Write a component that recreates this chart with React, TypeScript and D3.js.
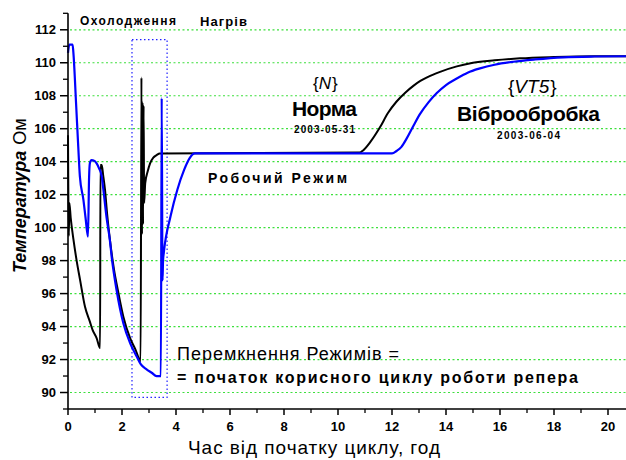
import React, { useEffect, useRef } from 'react';
import * as d3 from 'd3';

const W = 626;
const H = 460;
const FONT = "Arial, 'Liberation Sans', sans-serif";

// {N} Норма, 2003-05-31 (black)
const normaT = [0, 0.03, 0.05, 0.1, 0.2, 0.32, 0.45, 0.63, 0.81, 0.91, 1.06, 1.19, 1.2, 1.25, 1.3, 1.37, 1.45, 1.55, 1.7, 1.86, 2.05, 2.3, 2.5, 2.69, 2.72, 2.74, 2.76, 2.78, 2.8, 2.82, 2.86, 2.95, 3.04, 3.16, 3.28, 3.4, 10.8, 10.94, 11.2, 11.56, 11.85, 12.17, 12.5, 12.79, 13.05, 13.3, 13.78, 14.4, 15.0, 15.8, 16.74, 18, 19.5, 21];
const normaV = [105.6, 99.5, 101.5, 100.6, 99.3, 98.0, 96.8, 95.2, 94.3, 93.8, 93.3, 92.7, 103.8, 103.8, 103.2, 102.3, 100.8, 99.3, 97.5, 96.1, 94.6, 93.3, 92.6, 91.9, 109.1, 99.6, 107.6, 100.2, 107.4, 101.5, 102.7, 103.4, 103.9, 104.25, 104.4, 104.5, 104.55, 104.7, 105.2, 106.1, 106.95, 107.65, 108.2, 108.6, 108.9, 109.12, 109.45, 109.78, 110.0, 110.15, 110.27, 110.35, 110.4, 110.4];

// {VT5} Віброобробка, 2003-06-04 (blue)
const vt5T = [0, 0.05, 0.17, 0.2, 0.3, 0.38, 0.44, 0.57, 0.65, 0.74, 0.78, 0.81, 0.87, 0.98, 1.06, 1.15, 1.25, 1.31, 1.43, 1.55, 1.62, 1.8, 2.05, 2.3, 2.54, 2.7, 2.91, 3.1, 3.28, 3.44, 3.47, 3.5, 3.52, 3.55, 3.8, 4.05, 4.3, 4.5, 4.7, 12.0, 12.17, 12.35, 12.54, 12.8, 13.04, 13.35, 13.65, 14.0, 14.4, 14.8, 15.26, 15.8, 16.49, 17.3, 18.35, 19.5, 21];
const vt5V = [110.6, 111.1, 111.1, 110.6, 107.5, 104.9, 103.1, 101.7, 100.6, 99.45, 103.0, 103.9, 104.1, 104.05, 103.9, 103.6, 103.1, 102.3, 100.6, 99.25, 98.2, 96.2, 94.2, 93.0, 92.2, 91.7, 91.4, 91.2, 91.0, 91.0, 107.85, 96.8, 98.0, 98.5, 100.7, 102.3, 103.5, 104.2, 104.5, 104.5, 104.65, 104.9, 105.4, 106.2, 106.9, 107.6, 108.15, 108.65, 109.05, 109.4, 109.66, 109.88, 110.06, 110.2, 110.33, 110.38, 110.4];

const xMajorTicks = [0, 2, 4, 6, 8, 10, 12, 14, 16, 18, 20];
const yMajorTicks = [90, 92, 94, 96, 98, 100, 102, 104, 106, 108, 110, 112];
// dotted frame around the mode switch: [t0, t1, vLow, vHigh]
const switchBox = [2.37, 3.67, 89.7, 111.4];

const App = () => {
  const svgRef = useRef<SVGSVGElement>(null);

  useEffect(() => {
    const svg = d3.select(svgRef.current);
    svg.selectAll('*').remove();

    const x = d3.scaleLinear().domain([0, 21]).range([68, 635]);
    const y = d3.scaleLinear().domain([89, 113]).range([409, 13.3]);

    // grid
    svg.append('g')
      .selectAll('line')
      .data(yMajorTicks)
      .enter()
      .append('line')
      .attr('x1', x(0) + 2)
      .attr('x2', W)
      .attr('y1', (d) => y(d))
      .attr('y2', (d) => y(d))
      .attr('stroke', '#3ee03e')
      .attr('stroke-width', 1.2)
      .attr('stroke-dasharray', '2,2.5');

    // switch frame
    svg.append('rect')
      .attr('x', x(switchBox[0]))
      .attr('y', y(switchBox[3]))
      .attr('width', x(switchBox[1]) - x(switchBox[0]))
      .attr('height', y(switchBox[2]) - y(switchBox[3]))
      .attr('fill', 'none')
      .attr('stroke', '#2020ff')
      .attr('stroke-width', 1.2)
      .attr('stroke-dasharray', '1.5,2.5');

    const normaPts = normaT.map((t, i) => [x(t), y(normaV[i])] as [number, number]);
    const vt5Pts = vt5T.map((t, i) => [x(t), y(vt5V[i])] as [number, number]);

    svg.append('path')
      .attr('d', d3.line().curve(d3.curveMonotoneX)(normaPts))
      .attr('fill', 'none')
      .attr('stroke', '#000')
      .attr('stroke-width', 2);

    svg.append('path')
      .attr('d', d3.line().curve(d3.curveMonotoneX)(vt5Pts))
      .attr('fill', 'none')
      .attr('stroke', '#0000ff')
      .attr('stroke-width', 2.2);

    // x axis
    const xAxis = svg.append('g').attr('transform', `translate(0, ${y(89)})`);
    xAxis.append('line')
      .attr('x1', x(0)).attr('x2', W)
      .attr('stroke', '#000').attr('stroke-width', 1.6);
    xAxis.selectAll('.minor')
      .data(d3.range(1, 21, 2))
      .enter()
      .append('line')
      .attr('x1', (d) => x(d)).attr('x2', (d) => x(d))
      .attr('y1', 0).attr('y2', 4)
      .attr('stroke', '#000').attr('stroke-width', 1.3);
    xAxis.selectAll('.major')
      .data(xMajorTicks)
      .enter()
      .append('line')
      .attr('x1', (d) => x(d)).attr('x2', (d) => x(d))
      .attr('y1', 0).attr('y2', 6)
      .attr('stroke', '#000').attr('stroke-width', 1.5);
    xAxis.selectAll('text')
      .data(xMajorTicks)
      .enter()
      .append('text')
      .attr('x', (d) => x(d))
      .attr('y', 22)
      .attr('text-anchor', 'middle')
      .attr('font-family', FONT)
      .attr('font-weight', 'bold')
      .attr('font-size', 13)
      .text((d) => d);

    // y axis
    const yAxis = svg.append('g').attr('transform', `translate(${x(0)}, 0)`);
    yAxis.append('line')
      .attr('y1', y(113)).attr('y2', y(89))
      .attr('stroke', '#000').attr('stroke-width', 1.6);
    yAxis.selectAll('.minor')
      .data(d3.range(89, 114, 2))
      .enter()
      .append('line')
      .attr('y1', (d) => y(d)).attr('y2', (d) => y(d))
      .attr('x1', -5).attr('x2', 0)
      .attr('stroke', '#000').attr('stroke-width', 1.3);
    yAxis.selectAll('.major')
      .data(yMajorTicks)
      .enter()
      .append('line')
      .attr('y1', (d) => y(d)).attr('y2', (d) => y(d))
      .attr('x1', -8).attr('x2', 0)
      .attr('stroke', '#000').attr('stroke-width', 1.5);
    yAxis.selectAll('text')
      .data(yMajorTicks)
      .enter()
      .append('text')
      .attr('x', -12)
      .attr('y', (d) => y(d))
      .attr('dy', '0.36em')
      .attr('text-anchor', 'end')
      .attr('font-family', FONT)
      .attr('font-weight', 'bold')
      .attr('font-size', 13)
      .text((d) => d);

    // axis titles
    const yTitle = svg.append('text')
      .attr('transform', 'translate(26, 273) rotate(-90)')
      .attr('font-family', FONT)
      .attr('font-size', 18);
    yTitle.append('tspan')
      .attr('font-weight', 'bold')
      .attr('font-style', 'italic')
      .text('Температура');
    yTitle.append('tspan')
      .attr('dx', 6)
      .text('Ом');

    svg.append('text')
      .attr('x', 188).attr('y', 454)
      .attr('font-family', FONT)
      .attr('font-size', 19)
      .attr('textLength', 252)
      .text('Час від початку циклу, год');

    // annotations
    const label = (tx: string, px: number, py: number, size: number, bold: boolean, len?: number) => {
      const t = svg.append('text')
        .attr('x', px).attr('y', py)
        .attr('font-family', FONT)
        .attr('font-size', size)
        .attr('font-weight', bold ? 'bold' : 'normal')
        .text(tx);
      if (len) t.attr('textLength', len).attr('lengthAdjust', 'spacing');
      return t;
    };

    label('Охолодження', 80, 25, 12, true, 96);
    label('Нагрів', 200, 26, 13, true, 47);
    label('Норма', 292, 116, 21, true, 65);
    label('2003-05-31', 294, 133, 10, true, 61);
    label('Віброобробка', 457, 121, 21, true, 143);
    label('2003-06-04', 497, 139, 10, true, 63);
    label('Робочий Режим', 208, 183, 14, true, 139);
    label('Перемкнення Режимів =', 177, 360, 18, false, 222);
    label('= початок корисного циклу роботи репера', 177, 383, 16, true, 401);

    const braces = (part: string, px: number, py: number, size: number) => {
      const t = svg.append('text')
        .attr('x', px).attr('y', py)
        .attr('font-family', FONT)
        .attr('font-size', size);
      t.append('tspan').text('{');
      t.append('tspan').attr('font-style', 'italic').text(part);
      t.append('tspan').attr('dx', 1).text('}');
    };
    braces('N', 313, 89, 17);
    braces('VT5', 508, 93, 19);
  }, []);

  return (
    <svg
      ref={svgRef}
      width={W}
      height={H}
      style={{ position: 'absolute', left: 0, top: 0, background: '#fff' }}
    />
  );
};

export default App;
